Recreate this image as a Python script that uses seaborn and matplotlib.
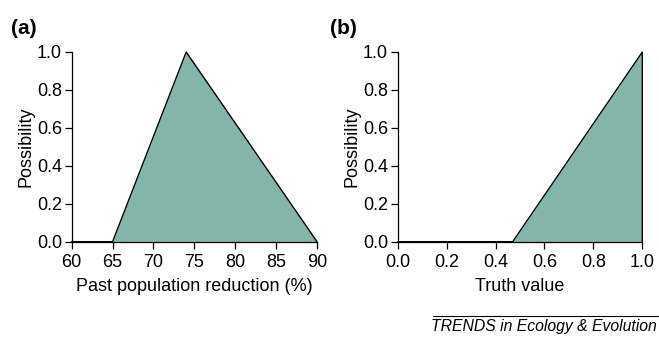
import numpy as np
import pandas as pd
import matplotlib
matplotlib.use("Agg")
import matplotlib.pyplot as plt
import seaborn as sns

# panel (a): possibility distribution of past population reduction
reduction_pct = [60, 65, 74, 90]
reduction_poss = [0.0, 0.0, 1.0, 0.0]
# panel (b): possibility distribution of truth value
truth_val = [0.0, 0.47, 1.0, 1.0]
truth_poss = [0.0, 0.0, 1.0, 0.0]

a_ticks = [60, 65, 70, 75, 80, 85, 90]
b_ticks = [0.0, 0.2, 0.4, 0.6, 0.8, 1.0]
y_ticks = [0.0, 0.2, 0.4, 0.6, 0.8, 1.0]

fill_col = "#84b5aa"

sns.set_style("ticks")
plt.rcParams['font.family'] = ['Liberation Sans', 'DejaVu Sans']
plt.rcParams['text.color'] = 'black'
plt.rcParams['axes.labelcolor'] = 'black'
plt.rcParams['axes.edgecolor'] = 'black'
plt.rcParams['axes.linewidth'] = 0.9
plt.rcParams['xtick.major.width'] = 0.9
plt.rcParams['ytick.major.width'] = 0.9
plt.rcParams['xtick.major.size'] = 5
plt.rcParams['ytick.major.size'] = 5

fig = plt.figure(figsize=(6.59, 3.37), dpi=100)
ax_a = fig.add_axes([0.1088, 0.2828, 0.3723, 0.5629])
ax_b = fig.add_axes([0.6035, 0.2828, 0.3712, 0.5629])

panels = [
    (ax_a, reduction_pct, reduction_poss, a_ticks, (60, 90), "Past population reduction (%)", "(a)", 11),
    (ax_b, truth_val, truth_poss, b_ticks, (0, 1), "Truth value", "(b)", 330),
]

for ax, xs, ys, xt, xl, xlab, tag, tx in panels:
    df = pd.DataFrame({"x": xs, "y": ys})
    ax.fill_between(df["x"], df["y"], color=fill_col, linewidth=0)
    sns.lineplot(data=df, x="x", y="y", ax=ax, color="black", linewidth=1.0,
                 sort=False, estimator=None, clip_on=False)
    ax.set_xlim(*xl)
    ax.set_ylim(0, 1)
    ax.set_xticks(xt)
    ax.set_yticks(y_ticks)
    if xl == (0, 1):
        ax.set_xticklabels([f"{v:.1f}" for v in xt])
    ax.set_yticklabels([f"{v:.1f}" for v in y_ticks])
    ax.tick_params(axis="y", labelsize=13, pad=2, color="black", labelcolor="black")
    ax.tick_params(axis="x", labelsize=13, pad=4, color="black", labelcolor="black")
    ax.set_xlabel(xlab, fontsize=13, labelpad=5)
    ax.set_ylabel("Possibility", fontsize=13, labelpad=2)
    sns.despine(ax=ax)
    fig.text(tx / 659, 1 - 28 / 337, tag, fontsize=15, fontweight="bold", va="center", ha="left")

# journal footer
fig.add_artist(plt.Line2D([433 / 659, 658 / 659], [1 - 316 / 337] * 2, color="black", linewidth=0.8))
fig.text(657 / 659, 1 - 327 / 337, "TRENDS in Ecology & Evolution", fontsize=11.3,
         style="italic", ha="right", va="center")

fig.savefig("out.png", dpi=100)
